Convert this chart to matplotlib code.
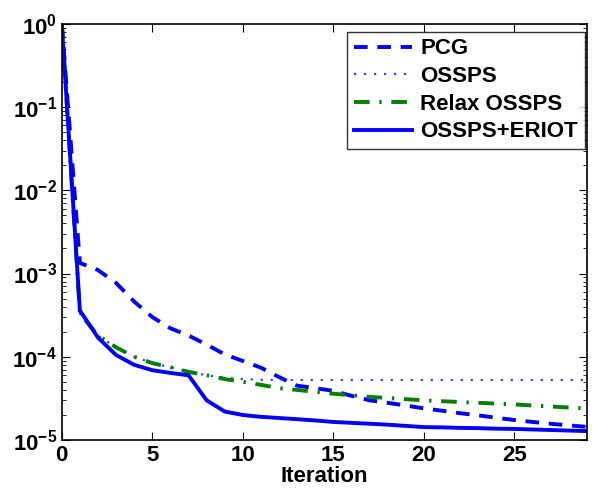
import matplotlib
matplotlib.use("Agg")
import matplotlib.pyplot as plt
from matplotlib.ticker import FixedLocator, FuncFormatter, LogLocator
import numpy as np

plt.rcParams['font.family'] = ['Liberation Sans', 'DejaVu Sans']
plt.rcParams['font.weight'] = 'bold'
plt.rcParams['mathtext.fontset'] = 'custom'
plt.rcParams['mathtext.rm'] = 'Liberation Sans:bold'
plt.rcParams['mathtext.bf'] = 'Liberation Sans:bold'

# iterations 0..29
it = np.arange(30)

pcg = [1.0, 1.34e-3, 1.1e-3, 7.7e-4, 4.6e-4, 3.0e-4, 2.2e-4, 1.8e-4, 1.4e-4, 1.07e-4,
       8.9e-5, 7.4e-5, 5.7e-5, 4.5e-5, 4.2e-5, 3.9e-5, 3.4e-5, 3.0e-5, 2.8e-5, 2.6e-5,
       2.4e-5, 2.25e-5, 2.1e-5, 1.98e-5, 1.85e-5, 1.74e-5, 1.65e-5, 1.57e-5, 1.5e-5, 1.44e-5]

ossps = [1.0, 3.3e-4, 1.8e-4, 1.3e-4, 1.0e-4, 8.4e-5, 7.5e-5, 6.6e-5, 6.0e-5, 5.6e-5,
         5.4e-5, 5.3e-5, 5.27e-5, 5.26e-5, 5.26e-5, 5.26e-5, 5.26e-5, 5.26e-5, 5.26e-5, 5.26e-5,
         5.26e-5, 5.26e-5, 5.26e-5, 5.26e-5, 5.26e-5, 5.26e-5, 5.26e-5, 5.26e-5, 5.26e-5, 5.26e-5]

relax = [1.0, 3.3e-4, 1.8e-4, 1.3e-4, 1.0e-4, 8.4e-5, 7.5e-5, 6.6e-5, 6.0e-5, 5.4e-5,
         5.0e-5, 4.6e-5, 4.2e-5, 4.0e-5, 3.8e-5, 3.6e-5, 3.45e-5, 3.3e-5, 3.2e-5, 3.1e-5,
         3.0e-5, 2.93e-5, 2.86e-5, 2.8e-5, 2.74e-5, 2.68e-5, 2.6e-5, 2.53e-5, 2.46e-5, 2.4e-5]

eriot = [1.0, 3.6e-4, 1.7e-4, 1.05e-4, 8.0e-5, 6.9e-5, 6.4e-5, 6.0e-5, 3.0e-5, 2.2e-5,
         2.0e-5, 1.9e-5, 1.84e-5, 1.78e-5, 1.72e-5, 1.65e-5, 1.61e-5, 1.57e-5, 1.53e-5, 1.48e-5,
         1.43e-5, 1.42e-5, 1.4e-5, 1.39e-5, 1.37e-5, 1.36e-5, 1.34e-5, 1.32e-5, 1.3e-5, 1.28e-5]

fig = plt.figure(figsize=(5.94, 4.95), dpi=100)
ax = fig.add_axes([0.104, 0.111, 0.884, 0.841])

ax.semilogy(it, pcg, '--', color='blue', lw=2.8, dashes=(3.5, 2.5), label='PCG')
ax.semilogy(it, ossps, ':', color='#3344ff', lw=1.6, dashes=(1, 3.5), label='OSSPS')
ax.semilogy(it, relax, '-.', color='green', lw=2.8, dashes=(4, 2.5, 0.6, 2.5), label='Relax OSSPS')
ax.semilogy(it, eriot, '-', color='blue', lw=2.8, label='OSSPS+ERIOT')

ax.set_xlim(0, 29)
ax.set_ylim(1e-5, 1)
ax.xaxis.set_major_locator(FixedLocator([0, 5, 10, 15, 20, 25]))
ax.yaxis.set_major_locator(LogLocator(base=10, numticks=10))
ax.yaxis.set_minor_locator(LogLocator(base=10, subs=np.arange(2, 10), numticks=20))
ax.yaxis.set_major_formatter(FuncFormatter(lambda v, p: r'$\mathbf{10^{%d}}$' % int(round(np.log10(v)))))
ax.yaxis.set_minor_formatter(FuncFormatter(lambda v, p: ''))
ax.tick_params(which='both', direction='in', top=True, right=True, labelsize=16)
ax.tick_params(which='major', length=6)
ax.tick_params(which='minor', length=3)
for lab in ax.get_xticklabels():
    lab.set_fontweight('bold')
for s in ax.spines.values():
    s.set_linewidth(1.2)

ax.set_xlabel('Iteration', fontsize=16, fontweight='bold', labelpad=0)

leg = ax.legend(loc='upper right', fontsize=16, frameon=True, fancybox=False,
                edgecolor='black', handlelength=2.6, borderaxespad=0,
                labelspacing=0.3, handletextpad=0.4, borderpad=0.3,
                bbox_to_anchor=(0.996, 0.981))
leg.get_frame().set_linewidth(1.0)

fig.savefig('out.png', dpi=100)
